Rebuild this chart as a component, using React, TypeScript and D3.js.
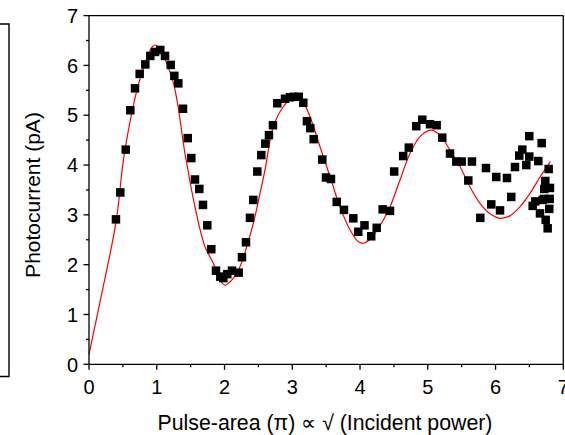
import React from "react";
import * as d3 from "d3";

// Measured photocurrent (x: pulse area in units of pi, y: pA)
const dataX = [
  0.398, 0.462, 0.542, 0.610, 0.679, 0.748, 0.831, 0.905, 0.974, 1.052,
  1.122, 1.206, 1.259, 1.318, 1.387, 1.457, 1.510, 1.564, 1.628, 1.682,
  1.746, 1.805, 1.874, 1.938, 1.982, 2.041, 2.110, 2.209, 2.258, 2.317,
  2.376, 2.425, 2.484, 2.543, 2.602, 2.656, 2.715, 2.779, 2.893, 2.966,
  3.025, 3.095, 3.163, 3.217, 3.266, 3.316, 3.443, 3.498, 3.571, 3.656,
  3.763, 3.901, 3.974, 4.066, 4.165, 4.246, 4.334, 4.442, 4.504, 4.637,
  4.720, 4.830, 4.919, 5.032, 5.131, 5.214, 5.328, 5.421, 5.500, 5.598,
  5.652, 5.775, 5.859, 5.937, 6.011, 6.066, 6.169, 6.232, 6.287, 6.350,
  6.395, 6.454, 6.498, 6.498, 6.548, 6.587, 6.631, 6.656, 6.681, 6.696,
  6.719, 6.719, 6.734, 6.740, 6.769, 6.784, 6.793, 6.799, 6.803,
];
const dataY = [
  2.91, 3.45, 4.31, 5.10, 5.54, 5.83, 6.02, 6.19, 6.27, 6.31,
  6.19, 6.01, 5.79, 5.64, 5.13, 4.54, 4.14, 3.71, 3.52, 3.20,
  2.79, 2.31, 1.88, 1.76, 1.73, 1.81, 1.88, 1.84, 2.15, 2.45,
  2.94, 3.30, 3.87, 4.20, 4.43, 4.60, 4.80, 5.24, 5.33, 5.36,
  5.37, 5.37, 5.25, 4.88, 4.74, 4.52, 4.11, 3.75, 3.72, 3.26,
  3.10, 2.93, 2.66, 2.79, 2.57, 2.74, 3.11, 3.08, 3.87, 4.18,
  4.35, 4.78, 4.91, 4.82, 4.80, 4.55, 4.23, 4.07, 4.07, 3.69,
  4.07, 2.94, 3.94, 3.21, 3.76, 3.09, 3.74, 3.36, 3.96, 4.19,
  4.31, 4.00, 4.58, 4.17, 3.18, 3.27, 4.08, 3.03, 4.44, 3.30,
  3.52, 3.32, 3.68, 2.90, 2.73, 3.92, 3.12, 3.32, 3.54,
];

// Fit curve
const fitX = [
  0, 0.162, 0.398, 0.531, 0.778, 0.974, 1.22, 1.417, 1.564, 1.712,
  1.835, 1.933, 2.007, 2.106, 2.228, 2.327, 2.425, 2.524, 2.597, 2.72,
  2.868, 3.015, 3.163, 3.262, 3.409, 3.557, 3.704, 3.852, 3.975, 4.05,
  4.147, 4.27, 4.442, 4.59, 4.737, 4.885, 5.043, 5.18, 5.328, 5.475,
  5.623, 5.77, 5.918, 6.066, 6.213, 6.36, 6.508, 6.656, 6.81,
];
const fitY = [
  0.2, 1.25, 2.85, 4.31, 5.84, 6.41, 5.77, 4.23, 3.16, 2.36,
  2.03, 1.69, 1.59, 1.69, 1.96, 2.36, 2.83, 3.43, 3.90, 4.77,
  5.17, 5.36, 5.24, 4.97, 4.37, 3.77, 3.16, 2.70, 2.46, 2.43,
  2.51, 2.73, 3.16, 3.70, 4.23, 4.57, 4.70, 4.60, 4.30, 3.97,
  3.56, 3.23, 3.02, 2.93, 2.98, 3.16, 3.43, 3.76, 4.07,
];

const xTicks = [0, 1, 2, 3, 4, 5, 6, 7];
const yTicks = [0, 1, 2, 3, 4, 5, 6, 7];
const xMinor = [0.5, 1.5, 2.5, 3.5, 4.5, 5.5, 6.5];
const yMinor = [0.5, 1.5, 2.5, 3.5, 4.5, 5.5, 6.5];

const xTitle = "Pulse-area (\u03c0) \u221d \u221a (Incident power)";
const yTitle = "Photocurrent (pA)";

export default function App() {
  const W = 565, H = 435;
  const x = d3.scaleLinear().domain([0, 7]).range([89, 563.3]);
  const y = d3.scaleLinear().domain([0, 7]).range([364.3, 15.6]);
  const font = "'Liberation Sans', Arial, sans-serif";
  const pts = fitX.map((v, i) => [v, fitY[i]] as [number, number]);
  const line = d3
    .line<[number, number]>()
    .x((d) => x(d[0]))
    .y((d) => y(d[1]))
    .curve(d3.curveCatmullRom.alpha(0.5));
  const ms = 8.5;
  return (
    <svg
      width={W}
      height={H}
      style={{ position: "absolute", left: 0, top: 0, background: "#fff" }}
      fontFamily={font}
    >
      <rect x={0} y={0} width={W} height={H} fill="#fff" />
      {/* partial frame on left edge */}
      <path d="M0,24 H9 V376.5 H0" fill="none" stroke="#000" strokeWidth={1.4} />

      {/* fit curve */}
      <path d={line(pts) || ""} fill="none" stroke="#ff0000" strokeWidth={1.2} />

      {/* data markers */}
      {dataX.map((v, i) => (
        <rect
          key={i}
          x={x(v) - ms / 2}
          y={y(dataY[i]) - ms / 2}
          width={ms}
          height={ms}
          fill="#000"
        />
      ))}

      {/* frame */}
      <line x1={x(0)} x2={x(7)} y1={y(7)} y2={y(7)} stroke="#000" strokeWidth={1.3} />
      <line x1={x(7)} x2={x(7)} y1={y(7)} y2={y(0)} stroke="#000" strokeWidth={1.3} />
      <line x1={x(0)} x2={x(7)} y1={y(0)} y2={y(0)} stroke="#000" strokeWidth={1.3} />
      <line x1={x(0)} x2={x(0)} y1={y(7)} y2={y(0)} stroke="#000" strokeWidth={1.3} />

      {/* x ticks */}
      {xTicks.map((t) => (
        <g key={"xt" + t}>
          <line x1={x(t)} x2={x(t)} y1={y(0)} y2={y(0) + 5.5} stroke="#000" strokeWidth={1.3} />
          <text x={x(t)} y={393.5} fontSize={20} textAnchor="middle" fill="#000">
            {t}
          </text>
        </g>
      ))}
      {xMinor.map((t) => (
        <line key={"xm" + t} x1={x(t)} x2={x(t)} y1={y(0)} y2={y(0) + 3} stroke="#000" strokeWidth={1.3} />
      ))}

      {/* y ticks */}
      {yTicks.map((t) => (
        <g key={"yt" + t}>
          <line x1={x(0) - 5.5} x2={x(0)} y1={y(t)} y2={y(t)} stroke="#000" strokeWidth={1.3} />
          <text x={78} y={y(t) + 7.2} fontSize={20} textAnchor="end" fill="#000">
            {t}
          </text>
        </g>
      ))}
      {yMinor.map((t) => (
        <line key={"ym" + t} x1={x(0) - 3} x2={x(0)} y1={y(t)} y2={y(t)} stroke="#000" strokeWidth={1.3} />
      ))}

      {/* titles */}
      <text x={325} y={429.5} fontSize={21.3} textAnchor="middle" fill="#000">
        {xTitle}
      </text>
      <text
        transform={`translate(40,195) rotate(-90)`}
        fontSize={21}
        textAnchor="middle"
        fill="#000"
      >
        {yTitle}
      </text>
    </svg>
  );
}
